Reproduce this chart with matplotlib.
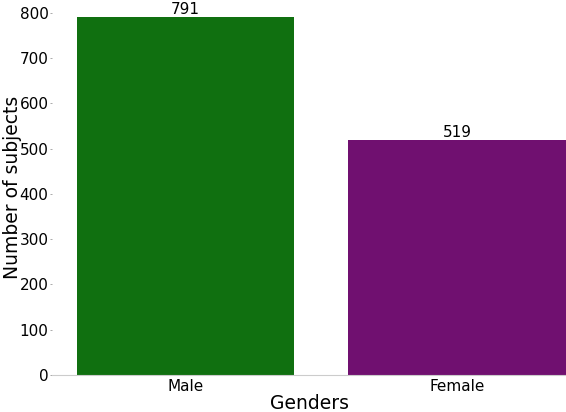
import matplotlib
matplotlib.use("Agg")
import matplotlib.pyplot as plt

categories = ["Male", "Female"]
counts = [791, 519]
colors = ["#107010", "#701070"]

fig = plt.figure(figsize=(5.66, 4.12), dpi=100)
ax = fig.add_axes([0.092, 0.09, 0.908, 0.91])
bars = ax.bar(range(len(categories)), counts, width=0.8, color=colors)
for b, v in zip(bars, counts):
    ax.text(b.get_x() + b.get_width() / 2, v, str(v), ha="center", va="bottom", fontsize=11)
ax.set_xticks(range(len(categories)))
ax.set_xticklabels(categories, fontsize=11)
ax.set_yticks(range(0, 801, 100))
ax.tick_params(axis="y", labelsize=11, length=1.5, width=0.5, color="#888888", pad=1)
ax.tick_params(axis="x", length=0, pad=3)
ax.set_xlim(-0.49, 1.4)
ax.set_ylim(0, 828)
for s in ["top", "right", "left"]:
    ax.spines[s].set_visible(False)
ax.spines["bottom"].set_color("#cccccc")
ax.set_xlabel("Genders", fontsize=13.5, labelpad=0)
ax.set_ylabel("Number of subjects", fontsize=13.5)
ax.yaxis.set_label_coords(-0.058, 0.5)
ax.xaxis.set_label_coords(0.5, -0.05)
fig.savefig("out.png", dpi=100)
